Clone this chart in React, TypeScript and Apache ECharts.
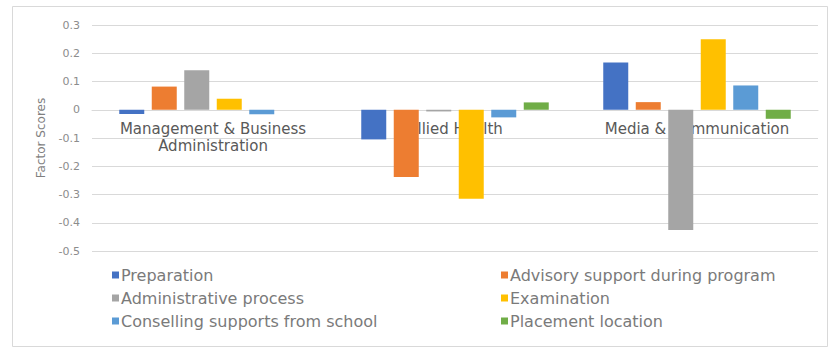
import React, { useEffect, useRef } from "react";
import * as echarts from "echarts";

const categories = ["Management & Business\nAdministration", "Allied Health", "Media & Communication"];
const seriesNames = [
  "Preparation",
  "Advisory support during program",
  "Administrative process",
  "Examination",
  "Conselling supports from school",
  "Placement location",
];
const preparation = [-0.015, -0.105, 0.167];
const advisory = [0.082, -0.238, 0.027];
const administrative = [0.14, -0.006, -0.426];
const examination = [0.039, -0.315, 0.25];
const conselling = [-0.016, -0.027, 0.086];
const placement = [0.0, 0.026, -0.032];
const colors = ["#4472C4", "#ED7D31", "#A5A5A5", "#FFC000", "#5B9BD5", "#70AD47"];
const yTicks = { min: -0.5, max: 0.3, interval: 0.1 };

export default function App() {
  const ref = useRef<HTMLDivElement>(null);
  useEffect(() => {
    document.body.style.margin = "0";
    const chart = echarts.init(ref.current!, null, { renderer: "svg" });
    const values = [preparation, advisory, administrative, examination, conselling, placement];
    const font = "DejaVu Sans";
    const legendText = { color: "#7a7a7a", fontSize: 16, fontFamily: font, padding: [0, 0, 0, -3] };
    const gridTop = 25;
    const gridBottom = 98;
    const plotH = 349 - gridTop - gridBottom;
    const zeroOffset = -(plotH * (0 - yTicks.min)) / (yTicks.max - yTicks.min);
    chart.setOption({
      animation: false,
      color: colors,
      graphic: [
        {
          type: "rect",
          shape: { x: 12.5, y: 6.5, width: 815, height: 340 },
          style: { fill: "none", stroke: "#d9d9d9", lineWidth: 1 },
          silent: true,
        },
      ],
      grid: { left: 92, right: 17, top: gridTop, bottom: gridBottom },
      xAxis: {
        type: "category",
        data: categories,
        position: "bottom",
        offset: zeroOffset,
        axisLine: { show: true, onZero: false, lineStyle: { color: "#d9d9d9" } },
        axisTick: { show: false },
        axisLabel: {
          color: "#595959",
          fontSize: 15,
          fontFamily: font,
          lineHeight: 17,
          margin: 11,
          interval: 0,
        },
      },
      yAxis: {
        type: "value",
        min: yTicks.min,
        max: yTicks.max,
        interval: yTicks.interval,
        name: "Factor Scores",
        nameLocation: "middle",
        nameGap: 45,
        nameTextStyle: { color: "#7f7f7f", fontSize: 12, fontFamily: font },
        axisLabel: {
          color: "#8c8c8c",
          fontSize: 11,
          fontFamily: font,
          margin: 12,
          formatter: (v: number) => String(Math.round(v * 10) / 10),
        },
        splitLine: { lineStyle: { color: "#d9d9d9" } },
        axisLine: { show: false },
        axisTick: { show: false },
      },
      legend: [
        {
          orient: "vertical",
          left: 107,
          top: 262,
          itemWidth: 7,
          itemHeight: 7,
          itemGap: 7,
          icon: "rect",
          textStyle: legendText,
          data: [seriesNames[0], seriesNames[2], seriesNames[4]],
        },
        {
          orient: "vertical",
          left: 496,
          top: 262,
          itemWidth: 7,
          itemHeight: 7,
          itemGap: 7,
          icon: "rect",
          textStyle: legendText,
          data: [seriesNames[1], seriesNames[3], seriesNames[5]],
        },
      ],
      series: seriesNames.map((name, i) => ({
        name,
        type: "bar",
        data: values[i],
        barWidth: 25,
        barGap: "30%",
      })),
    });
    return () => chart.dispose();
  }, []);
  return <div ref={ref} style={{ width: 835, height: 349 }} />;
}
